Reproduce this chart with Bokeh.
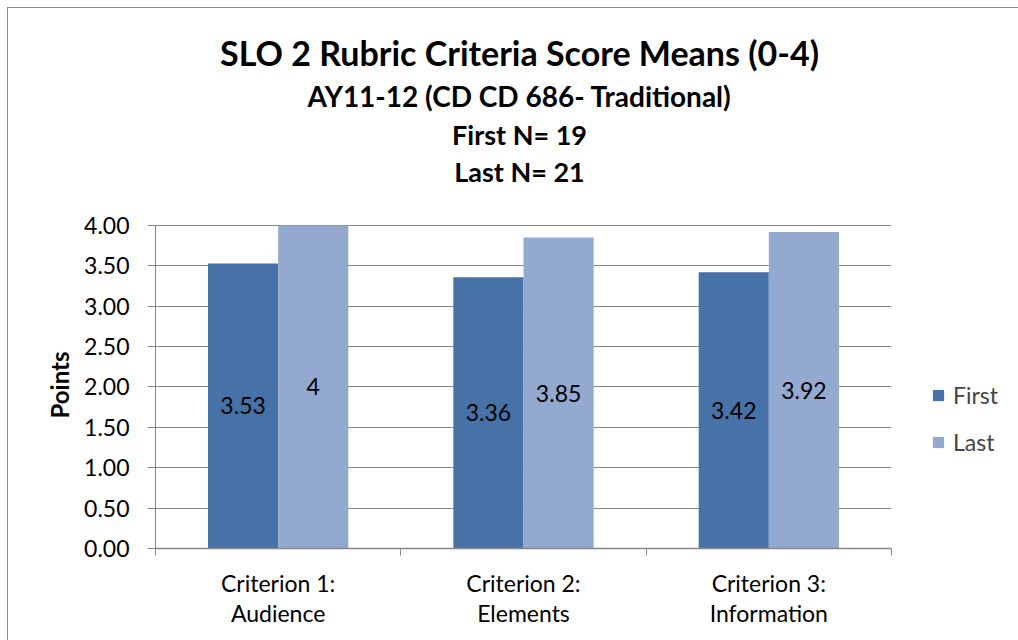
import numpy as np
from bokeh.plotting import figure
from bokeh.models import (Range1d, FixedTicker, NumeralTickFormatter, Legend, LegendItem,
                          ColumnDataSource, Label, Title)
from bokeh.embed import file_html
from bokeh.resources import INLINE
from bokeh.core.properties import value

categories = ["Criterion 1:\nAudience", "Criterion 2:\nElements", "Criterion 3:\nInformation"]
series_names = ["First", "Last"]
first_vals = [3.53, 3.36, 3.42]
last_vals = [4.0, 3.85, 3.92]
first_labels = ["3.53", "3.36", "3.42"]
last_labels = ["4", "3.85", "3.92"]
y_ticks = [0, 0.5, 1.0, 1.5, 2.0, 2.5, 3.0, 3.5, 4.0]
y_title = "Points"

title_text = "SLO 2 Rubric Criteria Score Means (0-4)"
subtitles = ["AY11-12 (CD CD 686- Traditional)", "First N= 19", "Last N= 21"]

FONT = "Lato"
FS = "23px"
C_FIRST = "#4672A8"
C_LAST = "#94A9D0"
GRID = "#878787"

# frame extends upward to hold the headings; the value axis is bounded to 0..4
p = figure(frame_width=736, frame_height=533, output_backend="svg", toolbar_location=None,
           title_location=None,
           x_range=Range1d(0, 3), y_range=Range1d(0, 6.6),
           min_border_left=147, min_border_right=128, min_border_top=7, min_border_bottom=93)
p.margin = (7, 0, 0, 7)
p.styles = {"border-left": "1px solid #8a8a8a", "border-top": "1px solid #8a8a8a"}
p.outline_line_color = None
p.background_fill_color = "white"
p.border_fill_color = "white"

centers = np.arange(len(categories)) + 0.5
bw = 0.286
src = ColumnDataSource(dict(
    xf=centers - bw / 2, xl=centers + bw / 2,
    first=first_vals, last=last_vals,
    yf=[v / 2 for v in first_vals], yl=[v / 2 for v in last_vals],
    lf=first_labels, ll=last_labels))

r1 = p.vbar(x="xf", top="first", width=bw, bottom=0, source=src, fill_color=C_FIRST, line_color=None)
r2 = p.vbar(x="xl", top="last", width=bw, bottom=0, source=src, fill_color=C_LAST, line_color=None)

p.text(x="xf", y="yf", text="lf", source=src, text_align="center", text_baseline="middle",
       text_font=value(FONT), text_font_size=FS, text_color="black")
p.text(x="xl", y="yl", text="ll", source=src, text_align="center", text_baseline="middle",
       text_font=value(FONT), text_font_size=FS, text_color="black")

# axes
xa = p.xaxis[0]
xa.ticker = FixedTicker(ticks=list(centers), minor_ticks=list(range(len(categories) + 1)))
xa.major_label_overrides = {float(c): lab for c, lab in zip(centers, categories)}
xa.major_tick_out = 0
xa.major_tick_in = 0
xa.minor_tick_out = 7
xa.minor_tick_in = 0
xa.minor_tick_line_color = GRID
xa.axis_line_color = GRID
xa.axis_line_width = 1.5
xa.major_label_standoff = 13
xa.major_label_text_font = FONT
xa.major_label_text_font_size = FS
xa.major_label_text_line_height = 1.1
xa.major_label_text_color = "black"

ya = p.yaxis[0]
ya.bounds = (0, 4)
ya.ticker = FixedTicker(ticks=y_ticks)
ya.formatter = NumeralTickFormatter(format="0.00")
ya.major_tick_out = 8
ya.major_tick_in = 0
ya.minor_tick_line_color = None
ya.major_tick_line_color = GRID
ya.axis_line_color = GRID
ya.major_label_standoff = 18
ya.major_label_text_font = FONT
ya.major_label_text_font_size = FS
ya.major_label_text_color = "black"

# axis title, placed along the 0..4 part of the value axis
p.add_layout(Title(text=y_title, align="left", offset=130, standoff=16,
                   text_font=FONT, text_font_style="bold", text_font_size="24px",
                   text_color="black"), "left")

p.xgrid.visible = False
p.ygrid.ticker = FixedTicker(ticks=y_ticks)
p.ygrid.grid_line_color = GRID
p.ygrid.grid_line_width = 1.2

legend = Legend(items=[LegendItem(label=series_names[0], renderers=[r1]),
                       LegendItem(label=series_names[1], renderers=[r2])],
                location=(40, 92), orientation="vertical",
                label_text_font=FONT, label_text_font_size=FS,
                glyph_width=14, glyph_height=14, spacing=19, label_standoff=8,
                border_line_color=None, background_fill_alpha=0, padding=0, margin=0)
p.add_layout(legend, "right")

# headings (screen units relative to the frame's lower-left corner)
heads = [(title_text, "34px", 496), (subtitles[0], "28px", 453),
         (subtitles[1], "27px", 414), (subtitles[2], "27px", 377)]
for t, fs, yy in heads:
    p.add_layout(Label(x=364, y=yy, x_units="screen", y_units="screen", text=t,
                       text_font=FONT, text_font_style="bold", text_font_size=fs,
                       text_color="black", text_align="center", text_baseline="middle"))

open("out.html", "w").write(file_html(p, INLINE))
